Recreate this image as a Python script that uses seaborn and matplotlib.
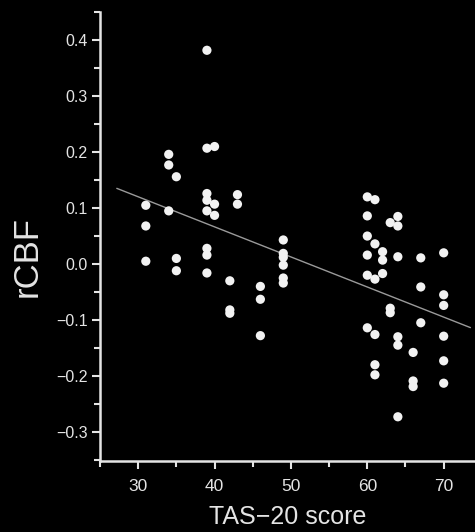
import matplotlib
matplotlib.use("Agg")
import matplotlib.pyplot as plt
import seaborn as sns
import numpy as np
import pandas as pd
from matplotlib.ticker import MultipleLocator

# Data
tas = [31, 31, 31,
       34, 34, 34,
       35, 35, 35,
       39, 39, 39, 39, 39, 39, 39, 39,
       40, 40, 40,
       42, 42, 42,
       43, 43,
       46, 46, 46,
       49, 49, 49, 49, 49, 49,
       60, 60, 60, 60, 60, 60,
       61, 61, 61, 61, 61, 61,
       62, 62, 62,
       63, 63, 63,
       64, 64, 64, 64, 64, 64,
       66, 66, 66,
       67, 67, 67,
       70, 70, 70, 70, 70, 70]
rcbf = [0.105, 0.068, 0.005,
        0.196, 0.177, 0.095,
        0.156, 0.010, -0.012,
        0.382, 0.207, 0.126, 0.114, 0.095, 0.028, 0.016, -0.016,
        0.210, 0.107, 0.087,
        -0.030, -0.082, -0.088,
        0.124, 0.107,
        -0.040, -0.063, -0.128,
        0.043, 0.019, 0.012, -0.002, -0.025, -0.034,
        0.120, 0.086, 0.050, 0.016, -0.020, -0.114,
        0.115, 0.036, -0.027, -0.126, -0.180, -0.198,
        0.022, 0.007, -0.017,
        0.074, -0.079, -0.087,
        0.085, 0.068, 0.013, -0.130, -0.145, -0.273,
        -0.158, -0.209, -0.219,
        0.011, -0.041, -0.105,
        0.020, -0.055, -0.074, -0.129, -0.173, -0.213]
x_ticks = [30, 40, 50, 60, 70]
y_ticks = [-0.3, -0.2, -0.1, 0.0, 0.1, 0.2, 0.3, 0.4]
fit_span = [27.2, 73.5]

df = pd.DataFrame({"TAS-20 score": tas, "rCBF": rcbf})

sns.set_style("ticks")
plt.rcParams['font.family'] = ['Liberation Sans', 'DejaVu Sans']
plt.rcParams['axes.unicode_minus'] = True

fg = "#e4e4e4"
fig = plt.figure(figsize=(4.75, 5.32), dpi=100, facecolor="black")
ax = fig.add_axes([0.2105, 0.1335, 0.7895, 0.8435])
ax.set_facecolor("black")

sns.scatterplot(data=df, x="TAS-20 score", y="rCBF", ax=ax, color="#f2f2f2",
                s=44, edgecolor="none", linewidth=0, zorder=3)

coef = np.polyfit(df["TAS-20 score"], df["rCBF"], 1)
xs = np.array(fit_span)
sns.lineplot(x=xs, y=np.polyval(coef, xs), ax=ax, color="#9a9a9a", linewidth=1.0, zorder=2)

ax.set_xlim(25, 74.1)
ax.set_ylim(-0.352, 0.45)
ax.set_xticks(x_ticks)
ax.set_yticks(y_ticks)
ax.set_xticklabels([str(v) for v in x_ticks])
ax.set_yticklabels([f"{v:.1f}".replace("-", "\u2212") for v in y_ticks])
ax.xaxis.set_minor_locator(MultipleLocator(5))
ax.yaxis.set_minor_locator(MultipleLocator(0.05))

for side in ["top", "right"]:
    ax.spines[side].set_visible(False)
for side in ["left", "bottom"]:
    ax.spines[side].set_color(fg)
    ax.spines[side].set_linewidth(1.8)

ax.tick_params(axis="both", which="major", colors=fg, length=6, width=1.5)
ax.tick_params(axis="both", which="minor", colors=fg, length=4, width=1.5)
ax.tick_params(axis="x", which="major", pad=7, labelsize=12.5)
ax.tick_params(axis="y", which="major", pad=3, labelsize=11.5)

ax.set_xlabel("TAS\u221220 score", color=fg, fontsize=18, labelpad=8)
ax.set_ylabel("rCBF", color=fg, fontsize=25)
ax.yaxis.set_label_coords(-0.15, 0.455)

fig.savefig("out.png", dpi=100, facecolor="black")
